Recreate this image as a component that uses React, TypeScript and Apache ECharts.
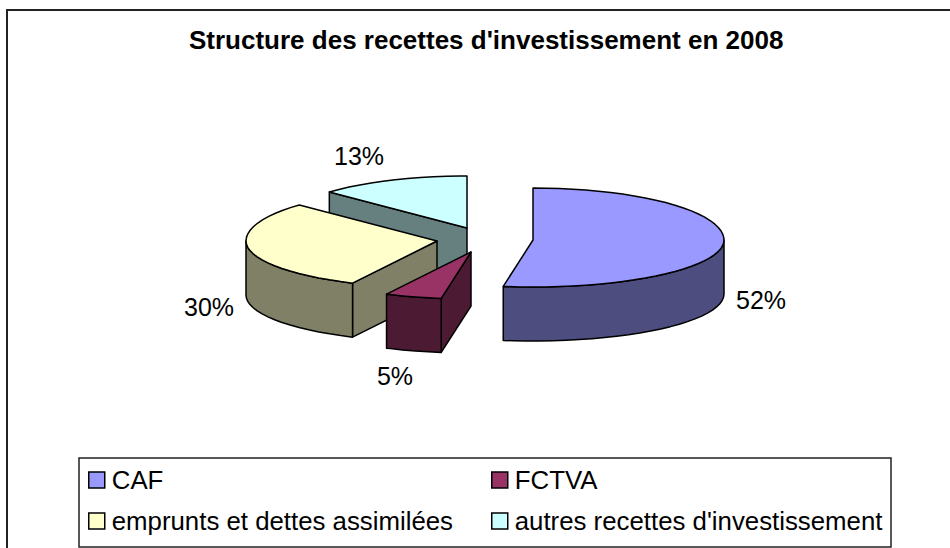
import React, { useEffect, useRef } from "react";
import * as echarts from "echarts";

const categories = ["CAF", "FCTVA", "emprunts et dettes assimilées", "autres recettes d'investissement"];
const values = [52.49, 4.8, 29.9, 12.81];
const topColors = ["#9999FF", "#993366", "#FFFFCC", "#CCFFFF"];
const sideColors = ["#4D4D80", "#4D1A33", "#808066", "#668080"];
const titleText = "Structure des recettes d'investissement en 2008";

// layout of the exploded, tilted pie
const apexes = [[533, 240], [471, 252], [437, 241], [467, 228]];
const labelAnchors = [[761, 300], [395, 376], [209, 307], [359, 156]];
const drawOrder = [3, 2, 1, 0]; // z order per slice index, back to front
const RX = 191;
const RY_BACK = 52;
const RY_FRONT = 47;
const WALL = 54;
const STEP = 4;
const FONT = "'Liberation Sans', Arial, sans-serif";

const total = values.reduce((a, b) => a + b, 0);
const cumulative = values.map((_, i) => values.slice(0, i).reduce((a, b) => a + b, 0));

function pt(i: number, deg: number, drop = 0): number[] {
  const r = (deg * Math.PI) / 180;
  const c = Math.cos(r);
  return [apexes[i][0] + RX * Math.sin(r), apexes[i][1] - (c > 0 ? RY_BACK : RY_FRONT) * c + drop];
}

function arc(i: number, a: number, b: number, drop = 0): number[][] {
  const pts: number[][] = [];
  for (let d = a; d < b; d += STEP) pts.push(pt(i, d, drop));
  pts.push(pt(i, b, drop));
  return pts;
}

function sliceRender(i: number) {
  return (_params: any, api: any) => {
    const a = (cumulative[i] / total) * 360;
    const b = a + (api.value(0) / total) * 360;
    const z = drawOrder[i] * 10;
    const line = { stroke: "#000", lineWidth: 1.5, lineJoin: "round" };
    const side = { ...line, fill: sideColors[i] };
    const children: any[] = [];
    const [ax, ay] = apexes[i];

    // the cut face at the start angle turns towards the viewer, except for the first slice
    if (i > 0) {
      const p = pt(i, a);
      children.push({
        type: "polygon",
        z2: z + 1,
        shape: { points: [[ax, ay], p, [p[0], p[1] + WALL], [ax, ay + WALL]] },
        style: side,
      });
    }

    // outer rim, front half only
    const from = Math.max(a, 90);
    const to = Math.min(b, 270);
    if (to > from) {
      const top = arc(i, from, to);
      const bottom = arc(i, from, to, WALL).reverse();
      children.push({ type: "polygon", z2: z + 2, shape: { points: [...top, ...bottom] }, style: side });
    }

    // top face
    children.push({
      type: "polygon",
      z2: z + 3,
      shape: { points: [[ax, ay], ...arc(i, a, b)] },
      style: { ...line, fill: topColors[i] },
    });

    // value label
    children.push({
      type: "text",
      z2: 100,
      x: labelAnchors[i][0],
      y: labelAnchors[i][1],
      style: {
        text: `${Math.round(api.value(0))}%`,
        fill: "#000",
        font: `25px ${FONT}`,
        align: "center",
        verticalAlign: "middle",
      },
    });
    return { type: "group", children };
  };
}

export default function App() {
  const ref = useRef<HTMLDivElement>(null);
  useEffect(() => {
    document.body.style.margin = "0";
    const chart = echarts.init(ref.current!, undefined, { renderer: "svg" });
    const legendBase = {
      orient: "vertical" as const,
      top: 467,
      itemWidth: 16,
      itemHeight: 16,
      itemGap: 15,
      icon: "rect",
      selectedMode: false,
      padding: 0,
      itemStyle: { borderColor: "#000", borderWidth: 1.5 },
      textStyle: { fontFamily: FONT, fontSize: 25.8, color: "#000", padding: [0, 0, 0, 2] },
    };
    chart.setOption({
      animation: false,
      backgroundColor: "#fff",
      title: {
        text: titleText,
        left: 189,
        top: 27,
        padding: 0,
        textStyle: { fontFamily: FONT, fontSize: 26, fontWeight: "bold", color: "#000" },
      },
      legend: [
        { ...legendBase, left: 88, data: [categories[0], categories[2]] },
        { ...legendBase, left: 491, data: [categories[1], categories[3]] },
      ],
      graphic: [
        {
          type: "rect",
          z: -1,
          shape: { x: 7, y: 10, width: 1000, height: 600 },
          style: { fill: "none", stroke: "#222", lineWidth: 2 },
        },
        {
          type: "rect",
          z: -1,
          shape: { x: 79, y: 458, width: 812, height: 89 },
          style: { fill: "#fff", stroke: "#222", lineWidth: 1.5 },
        },
      ],
      series: categories.map((name, i) => ({
        type: "custom",
        name,
        coordinateSystem: "none",
        silent: true,
        itemStyle: { color: topColors[i] },
        data: [[values[i]]],
        renderItem: sliceRender(i),
      })),
    });
    return () => chart.dispose();
  }, []);
  return <div ref={ref} style={{ position: "absolute", left: 0, top: 0, width: 950, height: 548 }} />;
}
